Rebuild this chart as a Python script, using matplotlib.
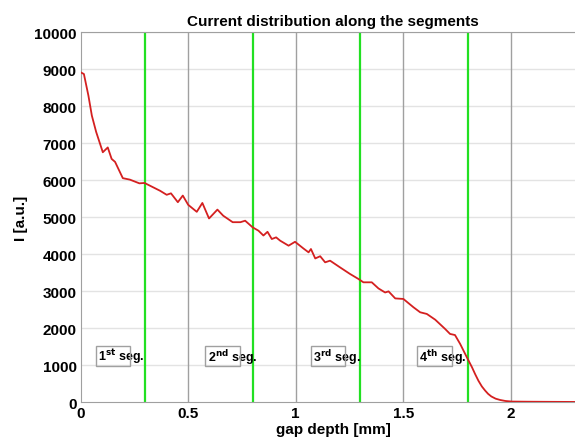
import matplotlib
matplotlib.use("Agg")
import matplotlib.pyplot as plt
from matplotlib.patches import Rectangle

plt.rcParams['font.family'] = ['Liberation Sans', 'DejaVu Sans']
plt.rcParams['font.weight'] = 'bold'
plt.rcParams['mathtext.default'] = 'bf'

gap_depth = [0.0, 0.015, 0.036, 0.052, 0.072, 0.103, 0.126, 0.144, 0.160, 0.196,
             0.229, 0.273, 0.297, 0.369, 0.400, 0.420, 0.452, 0.475, 0.500, 0.540,
             0.566, 0.597, 0.636, 0.663, 0.707, 0.743, 0.765, 0.800, 0.827, 0.850,
             0.869, 0.889, 0.909, 0.928, 0.967, 0.997, 1.036, 1.060, 1.071, 1.091,
             1.114, 1.137, 1.160, 1.206, 1.253, 1.292, 1.315, 1.354, 1.385, 1.416,
             1.432, 1.463, 1.501, 1.548, 1.579, 1.610, 1.649, 1.695, 1.718, 1.741,
             1.765, 1.796, 1.820, 1.835, 1.850, 1.866, 1.881, 1.895, 1.910, 1.930,
             1.951, 1.975, 2.005, 2.075, 2.200, 2.35]
current = [8910, 8865, 8280, 7740, 7300, 6750, 6880, 6570, 6490, 6050,
           6010, 5910, 5920, 5710, 5600, 5640, 5400, 5580, 5330, 5140,
           5380, 4960, 5200, 5035, 4860, 4860, 4900, 4720, 4630, 4500,
           4600, 4405, 4450, 4360, 4225, 4330, 4150, 4045, 4135, 3880,
           3940, 3775, 3820, 3640, 3460, 3325, 3235, 3235, 3070, 2960,
           2990, 2800, 2785, 2560, 2425, 2380, 2225, 1975, 1840, 1810,
           1570, 1210, 940, 750, 575, 420, 310, 220, 150, 90,
           55, 28, 12, 8, 4, 0]

segment_bounds = [0.3, 0.8, 1.3, 1.8]
segment_labels = ["1$^{st}$ seg.", "2$^{nd}$ seg.", "3$^{rd}$ seg.", "4$^{th}$ seg."]
segment_label_x = [0.08, 0.59, 1.08, 1.575]
x_ticks = [0, 0.5, 1, 1.5, 2]
x_tick_labels = ["0", "0.5", "1", "1.5", "2"]
y_ticks = list(range(0, 10001, 1000))

fig = plt.figure(figsize=(5.75, 4.39), dpi=100)
xmax = 2.35
ax = fig.add_axes([0.1403, 0.082, xmax * 215 / 575, 0.8428])
ax.set_xlim(0, xmax)
ax.set_ylim(0, 10000)

for yv in y_ticks[1:]:
    ax.axhline(yv, color='#e3e3e3', lw=1.0, zorder=0)
for xv in x_ticks[1:]:
    ax.axvline(xv, color='#a0a0a0', lw=1.0, zorder=0)

for xv in segment_bounds:
    ax.axvline(xv, color='#22e022', lw=1.6, zorder=1)

ax.plot(gap_depth, current, color='#d42020', lw=1.3, zorder=3)

for lx, lab in zip(segment_label_x, segment_labels):
    ax.text(lx, 1240, lab, fontsize=9, fontweight='bold', ha='left', va='center', zorder=4)
    ax.add_patch(Rectangle((lx - 0.01, 970), 0.16, 540, fill=False,
                           edgecolor='#a0a0a0', lw=1.0, zorder=4))

ax.set_xticks(x_ticks)
ax.set_xticklabels(x_tick_labels)
ax.set_yticks(y_ticks)
ax.tick_params(axis='both', length=0, labelsize=11, pad=3)
for lab in ax.get_xticklabels() + ax.get_yticklabels():
    lab.set_fontweight('bold')

for s in ax.spines.values():
    s.set_color('#a0a0a0')
ax.spines['right'].set_visible(False)

ax.set_title("Current distribution along the segments", fontsize=11, fontweight='bold', pad=5)
ax.set_xlabel("gap depth [mm]", fontsize=11, fontweight='bold', labelpad=1)
ax.set_ylabel("I [a.u.]", fontsize=11, fontweight='bold', labelpad=4)

fig.savefig("out.png", dpi=100)
